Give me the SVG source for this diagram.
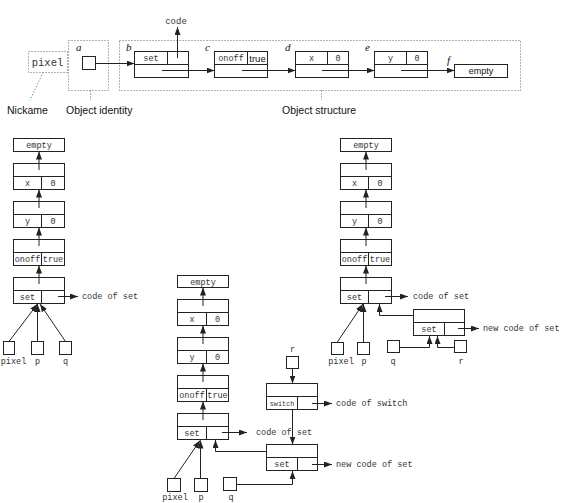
<svg xmlns="http://www.w3.org/2000/svg" width="562" height="503" viewBox="0 0 562 503">
<defs>
<marker id="ah" markerWidth="8" markerHeight="6" refX="8" refY="3" orient="auto" markerUnits="userSpaceOnUse"><path d="M0,0 L8,3 L0,6 z" fill="#222"/></marker>
<style>
.b{fill:none;stroke:#222;stroke-width:1}
.c{fill:none;stroke:#222;stroke-width:1;marker-end:url(#ah)}
.d{fill:none;stroke:#666;stroke-width:1;stroke-dasharray:1 2}
.m{font-family:"Liberation Mono",monospace;font-size:8.5px;fill:#333;text-anchor:middle}
.ms{font-family:"Liberation Mono",monospace;font-size:8.5px;fill:#333}
.sw{font-family:"Liberation Mono",monospace;font-size:6.8px;fill:#333;text-anchor:middle}
.s{font-family:"Liberation Sans",Arial,sans-serif;fill:#111}
.i{font-family:"Liberation Serif",serif;font-style:italic;font-size:11px;fill:#111}
</style>
</defs>
<rect width="562" height="503" fill="#fff"/>

<!-- top diagram -->
<g id="nickname">
<rect class="d" x="28.5" y="51.5" width="39" height="21"/>
<text class="m" style="font-size:10.5px" x="47.5" y="65.5">pixel</text>
</g>
<g id="identity">
<rect class="d" x="68.5" y="40.5" width="40" height="50"/>
<text class="i" x="76" y="51">a</text>
<rect class="b" x="82.5" y="56.5" width="13" height="13"/>
</g>
<g id="structure">
<rect class="d" x="119.5" y="40.5" width="401" height="50"/>
</g>
<g id="node-b">
<text class="i" x="126" y="51">b</text>
<rect class="b" x="134.5" y="51.5" width="54" height="26"/>
<path class="b" d="M134.5,64.5H188.5M167.5,51.5V64.5"/>
<text class="m" x="151" y="61">set</text>
</g>
<g id="node-c">
<text class="i" x="205" y="51">c</text>
<rect class="b" x="214.5" y="51.5" width="53" height="26"/>
<path class="b" d="M214.5,64.5H267.5M247.5,51.5V64.5"/>
<text class="m" x="231" y="61">onoff</text>
<text class="s" style="font-size:9.5px" x="257.5" y="61.5" text-anchor="middle">true</text>
</g>
<g id="node-d">
<text class="i" x="285" y="51">d</text>
<rect class="b" x="295.5" y="51.5" width="53" height="26"/>
<path class="b" d="M295.5,64.5H348.5M327.5,51.5V64.5"/>
<text class="m" x="311.5" y="61">x</text>
<text class="m" x="338" y="61">0</text>
</g>
<g id="node-e">
<text class="i" x="365" y="51">e</text>
<rect class="b" x="374.5" y="51.5" width="53" height="26"/>
<path class="b" d="M374.5,64.5H427.5M406.5,51.5V64.5"/>
<text class="m" x="390.5" y="61">y</text>
<text class="m" x="417" y="61">0</text>
</g>
<g id="node-f">
<text class="i" x="447" y="64">f</text>
<rect class="b" x="454.5" y="64.5" width="53" height="13"/>
<text class="s" style="font-size:9px" x="481" y="74" text-anchor="middle">empty</text>
</g>
<g id="code-label">
<text class="m" style="font-size:9px" x="176" y="24">code</text>
</g>
<g id="legend">
<text class="s" style="font-size:10.5px" x="7" y="114">Nickame</text>
<text class="s" style="font-size:10.5px" x="66" y="114">Object identity</text>
<text class="s" style="font-size:10.5px" x="282" y="114">Object structure</text>
</g>

<!-- left stack -->
<g id="L-empty"><rect class="b" x="13.5" y="138.5" width="51" height="13"/><text class="m" x="39" y="148">empty</text></g>
<g id="L-x"><rect class="b" x="13.5" y="163.5" width="51" height="26"/><path class="b" d="M13.5,176.5H64.5M41.5,176.5V189.5"/><text class="m" x="27.5" y="186">x</text><text class="m" x="53" y="186">0</text></g>
<g id="L-y"><rect class="b" x="13.5" y="201.5" width="51" height="26"/><path class="b" d="M13.5,214.5H64.5M41.5,214.5V227.5"/><text class="m" x="27.5" y="224">y</text><text class="m" x="53" y="224">0</text></g>
<g id="L-onoff"><rect class="b" x="13.5" y="239.5" width="51" height="26"/><path class="b" d="M13.5,252.5H64.5M41.5,252.5V265.5"/><text class="m" x="27.5" y="262">onoff</text><text class="m" x="53" y="262">true</text></g>
<g id="L-set"><rect class="b" x="13.5" y="277.5" width="51" height="26"/><path class="b" d="M13.5,290.5H64.5M41.5,290.5V303.5"/><text class="m" x="27.5" y="300">set</text><text class="ms" x="82" y="299">code of set</text></g>
<g id="L-pixel"><rect class="b" x="3.5" y="341.5" width="11" height="13"/><text class="m" x="13.5" y="364">pixel</text></g>
<g id="L-p"><rect class="b" x="31.5" y="341.5" width="12" height="13"/><text class="m" x="37.5" y="364">p</text></g>
<g id="L-q"><rect class="b" x="59.5" y="341.5" width="12" height="13"/><text class="m" x="65.5" y="364">q</text></g>

<!-- middle stack -->
<g id="M-empty"><rect class="b" x="177.5" y="275.5" width="51" height="12"/><text class="m" x="203" y="284.5">empty</text></g>
<g id="M-x"><rect class="b" x="177.5" y="299.5" width="51" height="26"/><path class="b" d="M177.5,312.5H228.5M206.5,312.5V325.5"/><text class="m" x="192" y="322">x</text><text class="m" x="217.5" y="322">0</text></g>
<g id="M-y"><rect class="b" x="177.5" y="337.5" width="51" height="26"/><path class="b" d="M177.5,350.5H228.5M206.5,350.5V363.5"/><text class="m" x="192" y="360">y</text><text class="m" x="217.5" y="360">0</text></g>
<g id="M-onoff"><rect class="b" x="177.5" y="375.5" width="51" height="26"/><path class="b" d="M177.5,388.5H228.5M206.5,388.5V401.5"/><text class="m" x="192" y="398">onoff</text><text class="m" x="217.5" y="398">true</text></g>
<g id="M-set"><rect class="b" x="177.5" y="413.5" width="51" height="26"/><path class="b" d="M177.5,426.5H228.5M206.5,426.5V439.5"/><text class="m" x="192" y="436">set</text><text class="ms" x="256" y="435">code of set</text></g>
<g id="M-r"><rect class="b" x="286.5" y="356.5" width="12" height="12"/><text class="m" x="292.5" y="352">r</text></g>
<g id="M-switch"><rect class="b" x="266.5" y="383.5" width="51" height="26"/><path class="b" d="M266.5,396.5H317.5M297.5,396.5V409.5"/><text class="sw" x="282" y="405.5">switch</text><text class="ms" x="336" y="406">code of switch</text></g>
<g id="M-newset"><rect class="b" x="266.5" y="444.5" width="51" height="26"/><path class="b" d="M266.5,457.5H317.5M297.5,457.5V470.5"/><text class="m" x="282" y="467">set</text><text class="ms" x="336" y="467">new code of set</text></g>
<g id="M-pixel"><rect class="b" x="167.5" y="478.5" width="13" height="13"/><text class="m" x="175" y="500">pixel</text></g>
<g id="M-p"><rect class="b" x="194.5" y="478.5" width="13" height="13"/><text class="m" x="201" y="500">p</text></g>
<g id="M-q"><rect class="b" x="223.5" y="477.5" width="13" height="13"/><text class="m" x="231" y="500">q</text></g>

<!-- right stack -->
<g id="R-empty"><rect class="b" x="340.5" y="138.5" width="51" height="13"/><text class="m" x="366" y="148">empty</text></g>
<g id="R-x"><rect class="b" x="340.5" y="163.5" width="51" height="26"/><path class="b" d="M340.5,176.5H391.5M368.5,176.5V189.5"/><text class="m" x="354.5" y="186">x</text><text class="m" x="380" y="186">0</text></g>
<g id="R-y"><rect class="b" x="340.5" y="201.5" width="51" height="26"/><path class="b" d="M340.5,214.5H391.5M368.5,214.5V227.5"/><text class="m" x="354.5" y="224">y</text><text class="m" x="380" y="224">0</text></g>
<g id="R-onoff"><rect class="b" x="340.5" y="239.5" width="51" height="26"/><path class="b" d="M340.5,252.5H391.5M368.5,252.5V265.5"/><text class="m" x="354.5" y="262">onoff</text><text class="m" x="380" y="262">true</text></g>
<g id="R-set"><rect class="b" x="340.5" y="277.5" width="51" height="26"/><path class="b" d="M340.5,290.5H391.5M368.5,290.5V303.5"/><text class="m" x="354.5" y="300">set</text><text class="ms" x="413" y="299">code of set</text></g>
<g id="R-newset"><rect class="b" x="413.5" y="309.5" width="51" height="26"/><path class="b" d="M413.5,322.5H464.5M444.5,322.5V335.5"/><text class="m" x="429" y="332">set</text><text class="ms" x="483" y="331">new code of set</text></g>
<g id="R-pixel"><rect class="b" x="331.5" y="342.5" width="12" height="12"/><text class="m" x="341" y="364">pixel</text></g>
<g id="R-p"><rect class="b" x="357.5" y="342.5" width="12" height="12"/><text class="m" x="364" y="364">p</text></g>
<g id="R-q"><rect class="b" x="387.5" y="340.5" width="12" height="12"/><text class="m" x="393" y="364">q</text></g>
<g id="R-r"><rect class="b" x="454.5" y="340.5" width="12" height="12"/><text class="m" x="461" y="364">r</text></g>

<g id="connectors">
<!-- top -->
<path class="c" d="M96,63.5H134.5"/>
<path class="c" d="M162,70.5H214.5"/>
<path class="c" d="M242,70.5H295.5"/>
<path class="c" d="M322,70.5H374.5"/>
<path class="c" d="M401,70.5H454.5"/>
<path class="c" d="M177.5,58V27"/>
<path class="d" d="M43,72.5L30,100"/>
<path class="d" d="M90.5,90.5V100"/>
<path class="d" d="M321.5,90.5V100"/>
<!-- left -->
<path class="c" d="M39,170V151.5"/>
<path class="c" d="M39,208V189.5"/>
<path class="c" d="M39,246V227.5"/>
<path class="c" d="M39,284V265.5"/>
<path class="c" d="M58,296.5H78"/>
<path class="c" d="M9,341.5L37.5,304"/>
<path class="c" d="M37.5,341.5V304"/>
<path class="c" d="M65.5,341.5L40,304"/>
<!-- middle -->
<path class="c" d="M203,306V287.5"/>
<path class="c" d="M203,344V325.5"/>
<path class="c" d="M203,382V363.5"/>
<path class="c" d="M203,420V401.5"/>
<path class="c" d="M222,432.5H247"/>
<path class="c" d="M292.5,368.5V383.5"/>
<path class="c" d="M292.5,409.5V444.5"/>
<path class="c" d="M312,403.5H332"/>
<path class="c" d="M312,464.5H332"/>
<path class="c" d="M266.5,451.5H215.5V440"/>
<path class="c" d="M236.5,484.5H292.5V471"/>
<path class="c" d="M174,478.5L200,440.5"/>
<path class="c" d="M200.5,478.5V440.5"/>
<!-- right -->
<path class="c" d="M366,170V151.5"/>
<path class="c" d="M366,208V189.5"/>
<path class="c" d="M366,246V227.5"/>
<path class="c" d="M366,284V265.5"/>
<path class="c" d="M385,296.5H408"/>
<path class="c" d="M458,328.5H479"/>
<path class="c" d="M413.5,315.5H379.5V304"/>
<path class="c" d="M399.5,347.5H429.5V336"/>
<path class="c" d="M454.5,347.5H437.5V336"/>
<path class="c" d="M337,342.5L363,304"/>
<path class="c" d="M363.5,342.5V304"/>
</g>
</svg>
